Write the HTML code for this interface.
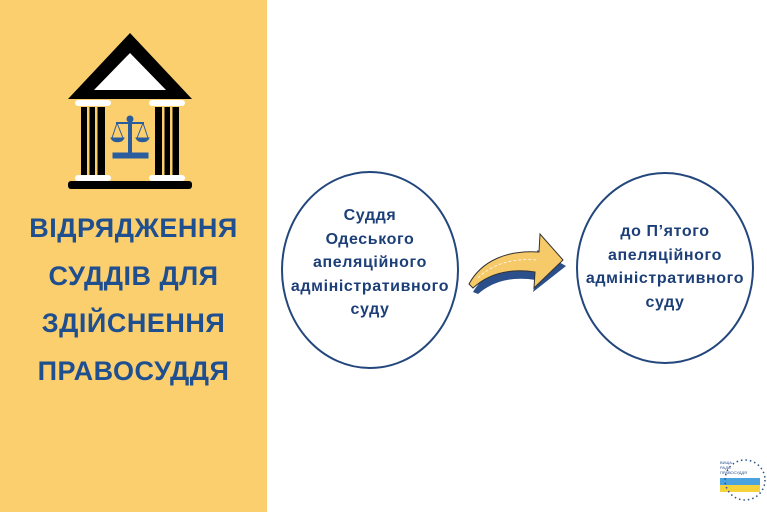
<!DOCTYPE html>
<html><head><meta charset="utf-8"><style>
body{margin:0;width:767px;height:512px;overflow:hidden;background:#fff;font-family:"Liberation Sans",sans-serif;position:relative}
.left{position:absolute;left:0;top:0;width:267px;height:512px;background:#fbcf6e}
.title{position:absolute;left:0;width:267px;top:205px;text-align:center;color:#1f4f8f;font-weight:bold;font-size:27px;line-height:47.5px;letter-spacing:0.5px}
.t{position:absolute;text-align:center;color:#1d3f78;font-weight:bold;font-size:16px;line-height:23.5px;letter-spacing:0.6px}
</style></head><body>
<div class="left"></div>
<svg width="767" height="512" style="position:absolute;left:0;top:0">
<polygon points="130,33 68,99 192,99" fill="#000"/>
<polygon points="130,53 94,90 166,90" fill="#fff"/>
<rect x="75" y="100" width="36" height="6" rx="3" fill="#fff"/>
<rect x="149" y="100" width="36" height="6" rx="3" fill="#fff"/>
<rect x="81" y="107" width="24" height="68" fill="#000"/>
<rect x="155" y="107" width="24" height="68" fill="#000"/>
<g fill="#fbcf6e"><rect x="87" y="107" width="2.5" height="68"/><rect x="95" y="107" width="2.5" height="68"/><rect x="162" y="107" width="2.5" height="68"/><rect x="170" y="107" width="2.5" height="68"/></g>
<rect x="75" y="175" width="36" height="6" rx="3" fill="#fff"/>
<rect x="149" y="175" width="36" height="6" rx="3" fill="#fff"/>
<rect x="68" y="181" width="124" height="8" rx="3" fill="#000"/>
<g fill="#2a5d9e" stroke="#2a5d9e"><circle cx="130" cy="119" r="3"/><rect x="128.5" y="119" width="3" height="34"/><rect x="113" y="153" width="35" height="5"/><line x1="116" y1="123" x2="144" y2="123" stroke-width="2"/><path d="M111,138 a7,6 0 0 0 13,0z"/><path d="M136,138 a7,6 0 0 0 13,0z"/><line x1="117" y1="123" x2="112" y2="138"/><line x1="117" y1="123" x2="123" y2="138"/><line x1="143" y1="123" x2="137" y2="138"/><line x1="143" y1="123" x2="148" y2="138"/></g>
<ellipse cx="370" cy="270" rx="88" ry="98" fill="none" stroke="#23477c" stroke-width="2"/>
<ellipse cx="665" cy="268" rx="88" ry="95" fill="none" stroke="#23477c" stroke-width="2"/>
<path d="M473,292 C486,270 510,260 540,262 L537,250 L566,266 L533,292 L536,280 C510,276 492,282 478,294 Z" fill="#2a4f8a"/>
<path d="M469,284 C482,260 508,250 539,252 L540,234 L563,260 L534,288 L535,272 C508,268 488,274 473,288 Z" fill="#f6c969" stroke="#333" stroke-width="1"/>
<path d="M478,278 C492,264 512,258 538,260" fill="none" stroke="#fff" stroke-dasharray="3,2" stroke-width="0.8"/>
<rect x="720" y="478" width="40" height="7" fill="#4aa3df"/>
<rect x="720" y="485" width="40" height="7" fill="#f6d23c"/>
<circle cx="745" cy="480" r="20" fill="none" stroke="#2a4f8a" stroke-dasharray="1.5,3" stroke-width="1.5"/>
</svg>
<div class="title">ВІДРЯДЖЕННЯ<br>СУДДІВ ДЛЯ<br>ЗДІЙСНЕННЯ<br>ПРАВОСУДДЯ</div>
<div class="t" style="left:272px;width:196px;top:204px">Суддя<br>Одеського<br>апеляційного<br>адміністративного<br>суду</div>
<div class="t" style="left:567px;width:196px;top:220px">до П’ятого<br>апеляційного<br>адміністративного<br>суду</div>
<div style="position:absolute;left:720px;top:460px;font-size:4px;color:#2a4f8a;line-height:5px">ВИЩА<br>РАДА<br>ПРАВОСУДДЯ</div>
</body></html>
